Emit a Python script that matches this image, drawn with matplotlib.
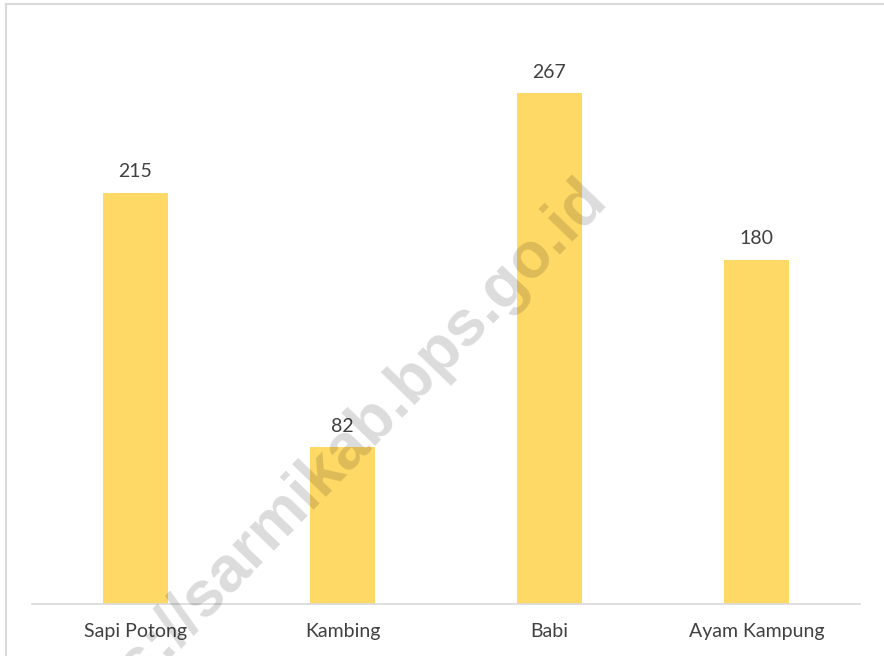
import matplotlib
matplotlib.use("Agg")
import matplotlib.pyplot as plt
from matplotlib.lines import Line2D

categories = ["Sapi Potong", "Kambing", "Babi", "Ayam Kampung"]
values = [215, 82, 267, 180]

plt.rcParams['font.family'] = ['Lato', 'DejaVu Sans']

fig = plt.figure(figsize=(8.84, 6.56), dpi=100)
ax = fig.add_axes([32/884, 52/656, 828/884, 1 - 52/656 - 30/656])

x = range(len(categories))
bars = ax.bar(x, values, width=0.31, color="#FFD966", zorder=2)
for xi, v in zip(x, values):
    ax.text(xi, v + 6.5, str(v), ha='center', va='bottom', fontsize=14, color="#404040")

ax.set_xlim(-0.5, len(categories) - 0.5)
ax.set_ylim(0, 300)
ax.set_xticks(list(x))
ax.set_xticklabels(categories, fontsize=14, color="#404040")
ax.tick_params(axis='x', length=0, pad=14)
ax.set_yticks([])
for s in ['top', 'right', 'left']:
    ax.spines[s].set_visible(False)
ax.spines['bottom'].set_color('#D9D9D9')
ax.spines['bottom'].set_linewidth(1.2)

# outer chart border (top and left visible)
fig.add_artist(Line2D([6/884, 1], [1 - 4/656, 1 - 4/656], color='#D9D9D9', lw=1.5, transform=fig.transFigure))
fig.add_artist(Line2D([6/884, 6/884], [0, 1 - 4/656], color='#D9D9D9', lw=1.5, transform=fig.transFigure))

# watermark
fig.text(608/884, 1 - 200/656, "https://sarmikab.bps.go.id", rotation=46, rotation_mode='anchor',
         ha='right', va='baseline', fontsize=46, fontweight='bold', family='Liberation Sans',
         color='black', alpha=0.14, zorder=10)

fig.savefig("out.png", dpi=100)
